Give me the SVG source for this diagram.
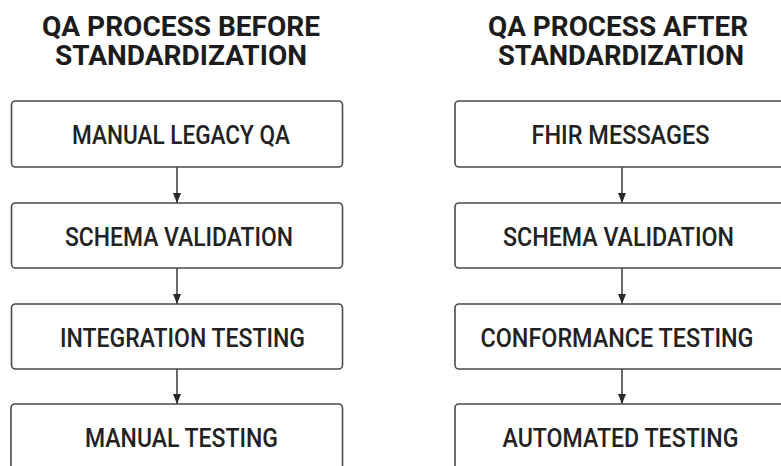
<svg xmlns="http://www.w3.org/2000/svg" width="781" height="466" viewBox="0 0 781 466">
<defs>
<style>
.title{font-family:Roboto,"Liberation Sans",sans-serif;font-weight:700;font-size:28px;fill:#1c1c1c;text-anchor:middle}
.lbl{font-family:Roboto,"Liberation Sans",sans-serif;font-weight:500;font-size:25px;fill:#222;text-anchor:middle}
.box{fill:#fff;stroke:#4a4a4a;stroke-width:1.6}
.conn{stroke:#2a2a2a;stroke-width:1.4;fill:none;marker-end:url(#ah)}
</style>
<marker id="ah" viewBox="0 0 10 8" refX="10" refY="4" markerWidth="10" markerHeight="8" markerUnits="userSpaceOnUse" orient="auto">
<path d="M0,0 L10,4 L0,8 Z" fill="#2a2a2a"/>
</marker>
</defs>
<rect width="781" height="466" fill="#fff"/>
<g id="title-before">
<text class="title"><tspan x="181" y="35.5" textLength="278" lengthAdjust="spacingAndGlyphs">QA PROCESS BEFORE</tspan><tspan x="181" y="64.5" textLength="252" lengthAdjust="spacingAndGlyphs">STANDARDIZATION</tspan></text>
</g>
<g id="title-after">
<text class="title"><tspan x="618" y="35.5" textLength="260" lengthAdjust="spacingAndGlyphs">QA PROCESS AFTER</tspan><tspan x="621" y="64.5" textLength="246" lengthAdjust="spacingAndGlyphs">STANDARDIZATION</tspan></text>
</g>
<g id="connectors">
<line class="conn" x1="177" y1="167" x2="177" y2="203"/>
<line class="conn" x1="177" y1="268" x2="177" y2="304"/>
<line class="conn" x1="177" y1="369" x2="177" y2="404"/>
<line class="conn" x1="622" y1="167" x2="622" y2="203"/>
<line class="conn" x1="622" y1="268" x2="622" y2="304"/>
<line class="conn" x1="622" y1="369" x2="622" y2="404"/>
</g>
<g id="b1">
<rect class="box" x="11.5" y="101" width="331" height="66" rx="4"/>
<text class="lbl" x="181" y="143.5" textLength="218" lengthAdjust="spacingAndGlyphs">MANUAL LEGACY QA</text>
</g>
<g id="b2">
<rect class="box" x="11.5" y="203" width="331" height="65" rx="4"/>
<text class="lbl" x="179" y="246" textLength="228" lengthAdjust="spacingAndGlyphs">SCHEMA VALIDATION</text>
</g>
<g id="b3">
<rect class="box" x="11.5" y="304" width="331" height="65" rx="4"/>
<text class="lbl" x="182.5" y="346.5" textLength="245" lengthAdjust="spacingAndGlyphs">INTEGRATION TESTING</text>
</g>
<g id="b4">
<rect class="box" x="11" y="404" width="331.5" height="80" rx="4"/>
<text class="lbl" x="181.5" y="446.5" textLength="193" lengthAdjust="spacingAndGlyphs">MANUAL TESTING</text>
</g>
<g id="a1">
<rect class="box" x="455" y="101" width="340" height="66" rx="4"/>
<text class="lbl" x="620.5" y="143.5" textLength="178" lengthAdjust="spacingAndGlyphs">FHIR MESSAGES</text>
</g>
<g id="a2">
<rect class="box" x="455" y="203" width="340" height="65" rx="4"/>
<text class="lbl" x="618.5" y="246" textLength="231" lengthAdjust="spacingAndGlyphs">SCHEMA VALIDATION</text>
</g>
<g id="a3">
<rect class="box" x="455" y="304" width="340" height="65" rx="4"/>
<text class="lbl" x="617" y="346.5" textLength="273" lengthAdjust="spacingAndGlyphs">CONFORMANCE TESTING</text>
</g>
<g id="a4">
<rect class="box" x="455" y="404" width="340" height="80" rx="4"/>
<text class="lbl" x="620.5" y="446.5" textLength="236" lengthAdjust="spacingAndGlyphs">AUTOMATED TESTING</text>
</g>
</svg>
